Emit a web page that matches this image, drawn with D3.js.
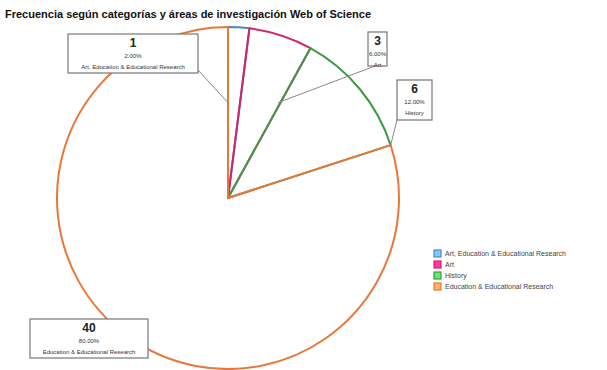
<!DOCTYPE html>
<html>
<head>
<meta charset="utf-8">
<script src="https://cdn.jsdelivr.net/npm/d3@7"></script>
<style>
  body { margin: 0; background: #fff; }
  text { font-family: "Liberation Sans", Arial, sans-serif; }
</style>
</head>
<body>
<script>
// data
var categories = ["Art, Education & Educational Research", "Art", "History", "Education & Educational Research"];
var values = [1, 3, 6, 40];
var percentLabels = ["2.00%", "6.00%", "12.00%", "80.00%"];
var legendLabels = ["Art, Education & Educational Research", "Art", "History", "Education & Educational Research"];
var colors = ["#4f86c6", "#d1246f", "#3d9a45", "#e8773c"];

var width = 607, height = 370;
var cx = 228, cy = 198, radius = 171;

var svg = d3.select("body").append("svg")
    .attr("width", width)
    .attr("height", height);

// title
svg.append("text")
    .attr("x", 5)
    .attr("y", 18)
    .style("font-size", "11px")
    .style("font-weight", "bold")
    .style("fill", "#111")
    .text("Frecuencia según categorías y áreas de investigación Web of Science");

var pie = d3.pie().sort(null).value(function(d) { return d; });
var arcs = pie(values);
var arc = d3.arc().innerRadius(0).outerRadius(radius);

var g = svg.append("g").attr("transform", "translate(" + cx + "," + cy + ")");

g.selectAll(".slice")
    .data(arcs)
  .enter().append("path")
    .attr("class", "slice")
    .attr("d", arc)
    .style("fill", "none")
    .style("stroke", function(d, i) { return colors[i]; })
    .style("stroke-width", 2)
    .style("stroke-linejoin", "round");

// label boxes (box position, leader anchor angle fraction / radius fraction)
var boxes = [
  {x: 68, y: 34, w: 130, h: 39, anchorA: 0.1, anchorR: 0.55, from: [198, 70]},
  {x: 368, y: 32, w: 19, h: 34, anchorA: 0.95, anchorR: 0.63, from: [375, 66]},
  {x: 397, y: 80, w: 35, h: 40, anchorA: 0.0, anchorR: 1.0, anchorEnd: true, from: [397, 120]},
  {x: 30, y: 319, w: 118, h: 39, anchorA: null}
];

var labels = svg.append("g");
arcs.forEach(function(d, i) {
  var b = boxes[i];
  if (b.anchorA !== null) {
    var ang = b.anchorEnd ? d.endAngle : d.startAngle + (d.endAngle - d.startAngle) * b.anchorA;
    var ax = cx + Math.sin(ang) * radius * b.anchorR,
        ay = cy - Math.cos(ang) * radius * b.anchorR;
    labels.append("line")
        .attr("x1", ax).attr("y1", ay)
        .attr("x2", b.from[0]).attr("y2", b.from[1])
        .style("stroke", "#888")
        .style("stroke-width", 1);
  }
  labels.append("rect")
      .attr("x", b.x).attr("y", b.y)
      .attr("width", b.w).attr("height", b.h)
      .style("fill", "#fff")
      .style("stroke", "#777")
      .style("stroke-width", 1.2);
  var mx = b.x + b.w / 2;
  labels.append("text")
      .attr("x", mx).attr("y", b.y + 13)
      .attr("text-anchor", "middle")
      .style("font-size", "12px")
      .style("font-weight", "bold")
      .style("fill", "#222")
      .text(values[i]);
  labels.append("text")
      .attr("x", mx).attr("y", b.y + 24)
      .attr("text-anchor", "middle")
      .style("font-size", "6px")
      .style("fill", "#333")
      .text(percentLabels[i]);
  labels.append("text")
      .attr("x", mx).attr("y", b.y + 35)
      .attr("text-anchor", "middle")
      .style("font-size", "6px")
      .style("fill", "#333")
      .text(categories[i]);
});

// legend
var legend = svg.selectAll(".legend")
    .data(legendLabels)
  .enter().append("g")
    .attr("class", "legend")
    .attr("transform", function(d, i) { return "translate(434," + (250 + i * 11) + ")"; });

legend.append("rect")
    .attr("width", 7)
    .attr("height", 7)
    .style("fill", function(d, i) { return d3.color(colors[i]).brighter(1.2); })
    .style("stroke", function(d, i) { return colors[i]; })
    .style("stroke-width", 1.2);

legend.append("text")
    .attr("x", 11)
    .attr("y", 6)
    .style("font-size", "7px")
    .style("fill", "#444")
    .text(function(d) { return d; });
</script>
</body>
</html>
